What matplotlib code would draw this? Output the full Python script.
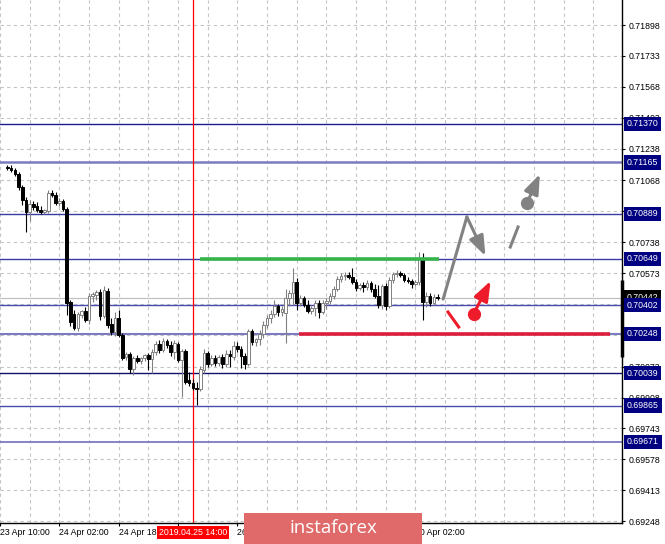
import numpy as np
import matplotlib
matplotlib.use("Agg")
import matplotlib.pyplot as plt
from matplotlib.patches import Rectangle
from matplotlib.transforms import blended_transform_factory

# ---- data (H1 candles, bar index counted from 23 Apr 10:00) ----
bars = np.arange(2, 119)

opens = [0.71140, 0.71134, 0.71124, 0.71103, 0.71033, 0.70963, 0.70899, 0.70942, 0.70931, 0.70910,
         0.70899, 0.70905, 0.71001, 0.70990, 0.70947, 0.70958, 0.70915, 0.70418, 0.70355, 0.70279,
         0.70349, 0.70371, 0.70322, 0.70451, 0.70456, 0.70472, 0.70344, 0.70478, 0.70301, 0.70258,
         0.70333, 0.70242, 0.70125, 0.70141, 0.70061, 0.70119, 0.70104, 0.70119, 0.70135, 0.70114,
         0.70151, 0.70194, 0.70162, 0.70210, 0.70188, 0.70151, 0.70194, 0.70109, 0.70157, 0.70002,
         0.69986, 0.69959, 0.69954, 0.70055, 0.70146, 0.70088, 0.70119, 0.70093, 0.70125, 0.70088,
         0.70141, 0.70125, 0.70183, 0.70167, 0.70130, 0.70088, 0.70264, 0.70204, 0.70221, 0.70248,
         0.70295, 0.70333, 0.70355, 0.70397, 0.70365, 0.70360, 0.70440, 0.70467, 0.70525, 0.70413,
         0.70440, 0.70402, 0.70371, 0.70386, 0.70413, 0.70365, 0.70413, 0.70424, 0.70451, 0.70488,
         0.70541, 0.70557, 0.70562, 0.70552, 0.70525, 0.70493, 0.70509, 0.70499, 0.70520, 0.70488,
         0.70451, 0.70402, 0.70504, 0.70397, 0.70536, 0.70568, 0.70573, 0.70562, 0.70536, 0.70531,
         0.70515, 0.70525, 0.70653, 0.70418, 0.70451, 0.70413, 0.70446]
highs = [0.71150, 0.71150, 0.71134, 0.71113, 0.71043, 0.70980, 0.70963, 0.70958, 0.70952, 0.70931,
         0.70915, 0.71017, 0.71017, 0.71006, 0.70974, 0.70969, 0.70926, 0.70429, 0.70376, 0.70365,
         0.70376, 0.70392, 0.70467, 0.70472, 0.70483, 0.70488, 0.70504, 0.70493, 0.70333, 0.70365,
         0.70376, 0.70253, 0.70151, 0.70151, 0.70130, 0.70135, 0.70125, 0.70141, 0.70146, 0.70167,
         0.70210, 0.70215, 0.70226, 0.70221, 0.70210, 0.70215, 0.70204, 0.70167, 0.70167, 0.70044,
         0.70007, 0.69991, 0.70077, 0.70167, 0.70157, 0.70135, 0.70135, 0.70135, 0.70141, 0.70162,
         0.70162, 0.70210, 0.70204, 0.70183, 0.70146, 0.70274, 0.70274, 0.70226, 0.70269, 0.70317,
         0.70349, 0.70376, 0.70429, 0.70408, 0.70397, 0.70488, 0.70483, 0.70600, 0.70546, 0.70456,
         0.70451, 0.70429, 0.70397, 0.70429, 0.70429, 0.70429, 0.70440, 0.70467, 0.70504, 0.70557,
         0.70573, 0.70578, 0.70578, 0.70600, 0.70541, 0.70520, 0.70525, 0.70536, 0.70531, 0.70515,
         0.70509, 0.70515, 0.70520, 0.70552, 0.70578, 0.70589, 0.70584, 0.70573, 0.70552, 0.70541,
         0.70536, 0.70685, 0.70680, 0.70472, 0.70467, 0.70461, 0.70462]
lows = [0.71124, 0.71113, 0.71092, 0.71017, 0.70936, 0.70792, 0.70852, 0.70910, 0.70899, 0.70889,
        0.70889, 0.70894, 0.70980, 0.70936, 0.70931, 0.70905, 0.70349, 0.70290, 0.70269, 0.70264,
        0.70333, 0.70311, 0.70301, 0.70418, 0.70429, 0.70322, 0.70333, 0.70279, 0.70242, 0.70237,
        0.70232, 0.70109, 0.70109, 0.70039, 0.70028, 0.70093, 0.70088, 0.70104, 0.70055, 0.70039,
        0.70135, 0.70146, 0.70151, 0.70172, 0.70130, 0.70114, 0.70098, 0.69911, 0.69981, 0.69970,
        0.69948, 0.69868, 0.69943, 0.70039, 0.70072, 0.70077, 0.70077, 0.70077, 0.70066, 0.70072,
        0.70072, 0.70109, 0.70151, 0.70066, 0.70061, 0.70077, 0.70188, 0.70183, 0.70188, 0.70226,
        0.70279, 0.70306, 0.70339, 0.70344, 0.70344, 0.70199, 0.70397, 0.70402, 0.70376, 0.70397,
        0.70392, 0.70360, 0.70355, 0.70344, 0.70333, 0.70355, 0.70381, 0.70408, 0.70434, 0.70478,
        0.70525, 0.70536, 0.70541, 0.70515, 0.70478, 0.70483, 0.70472, 0.70483, 0.70472, 0.70440,
        0.70386, 0.70381, 0.70376, 0.70386, 0.70520, 0.70552, 0.70552, 0.70525, 0.70520, 0.70493,
        0.70504, 0.70509, 0.70322, 0.70392, 0.70397, 0.70402, 0.70429]
closes = [0.71134, 0.71124, 0.71103, 0.71033, 0.70963, 0.70899, 0.70942, 0.70926, 0.70910, 0.70899,
          0.70910, 0.71001, 0.70990, 0.70947, 0.70958, 0.70915, 0.70413, 0.70311, 0.70279, 0.70355,
          0.70371, 0.70322, 0.70451, 0.70462, 0.70472, 0.70344, 0.70483, 0.70295, 0.70258, 0.70333,
          0.70242, 0.70119, 0.70141, 0.70061, 0.70119, 0.70104, 0.70119, 0.70135, 0.70114, 0.70151,
          0.70194, 0.70162, 0.70210, 0.70188, 0.70151, 0.70199, 0.70109, 0.70157, 0.69991, 0.69986,
          0.69959, 0.69954, 0.70061, 0.70146, 0.70088, 0.70119, 0.70093, 0.70125, 0.70088, 0.70141,
          0.70130, 0.70183, 0.70167, 0.70130, 0.70088, 0.70264, 0.70204, 0.70221, 0.70248, 0.70295,
          0.70333, 0.70355, 0.70397, 0.70365, 0.70381, 0.70440, 0.70467, 0.70525, 0.70413, 0.70440,
          0.70402, 0.70371, 0.70386, 0.70413, 0.70365, 0.70413, 0.70424, 0.70451, 0.70488, 0.70541,
          0.70557, 0.70562, 0.70552, 0.70525, 0.70493, 0.70509, 0.70499, 0.70520, 0.70488, 0.70451,
          0.70402, 0.70504, 0.70397, 0.70536, 0.70568, 0.70573, 0.70562, 0.70536, 0.70531, 0.70515,
          0.70525, 0.70653, 0.70418, 0.70451, 0.70413, 0.70446, 0.70442]

price_ticks = [0.69248, 0.69413, 0.69578, 0.69743, 0.69908, 0.70073, 0.70240, 0.70407, 0.70573,
               0.70738, 0.70903, 0.71068, 0.71238, 0.71403, 0.71568, 0.71733, 0.71898]
time_ticks = [0, 16, 32, 48, 64, 80, 96, 112]
time_labels = ["23 Apr 10:00", "24 Apr 02:00", "24 Apr 18:00", "25 Apr 10:00",
               "26 Apr 02:00", "26 Apr 18:00", "29 Apr 10:00", "30 Apr 02:00"]
grid_bars = np.arange(0, 168, 8)

levels = [0.71370, 0.71165, 0.70889, 0.70649, 0.70402, 0.70248, 0.70039, 0.69865, 0.69671]
level_colors = ['#1c1c8c', '#7b7bc0', '#3a3aa8', '#3a3aa8', '#4a4ab0',
                '#7b7bc0', '#101070', '#4a4ab0', '#7b7bc0']
level_widths = [1.0, 1.8, 1.0, 1.0, 1.0, 1.5, 1.0, 1.0, 1.3]
last_price = 0.70442
marked_bar = 52          # 2019.04.25 14:00
marked_label = "2019.04.25 14:00"

resist_x, resist_y = [53.9, 118.4], 0.70649
support_x, support_y = [80.5, 164.5], 0.70248
range_bar = [0.70124, 0.70536]

up_path_x = [119.5, 125.9, 130.9]
up_path_y = [0.70434, 0.70873, 0.70664]
up_dash_x = [137.6, 139.7]
up_dash_y = [0.70712, 0.70819]
up_arrow_x = [142.1, 145.6]
up_arrow_y = [0.70947, 0.71102]
dn_dash_x = [120.8, 123.7]
dn_dash_y = [0.70365, 0.70285]
dn_arrow_x = [127.7, 132.3]
dn_arrow_y = [0.70354, 0.70531]

# ---- figure ----
W, H = 665, 544
FONT = 'Liberation Sans'
FS = 6.3
fig = plt.figure(figsize=(W / 100, H / 100), dpi=100)
ax = fig.add_axes([0, 21 / H, 622 / W, 523 / H])
ax.set_xlim(7 / 3.75, 629 / 3.75)
ax.set_ylim(0.692376, 0.72032)

for s in ['top', 'left']:
    ax.spines[s].set_visible(False)
for s in ['right', 'bottom']:
    ax.spines[s].set_color('black')
    ax.spines[s].set_linewidth(1.0)

ax.yaxis.tick_right()
ax.set_yticks(price_ticks)
ax.set_yticklabels([f"{p:.5f}" for p in price_ticks], fontsize=FS, family=FONT)
ax.set_xticks(time_ticks)
ax.set_xticklabels([])
ax.set_xticks(grid_bars, minor=True)
ax.tick_params(axis='both', which='major', length=2.5, width=0.8, pad=2, direction='out')
ax.tick_params(axis='x', which='minor', length=0)
ax.grid(True, which='both', color='#c4c4c4', linestyle=(0, (3, 3)), linewidth=0.8)
ax.set_axisbelow(True)

# time labels start at their tick, like the terminal does
for b, lab in zip(time_ticks, time_labels):
    ax.annotate(lab, xy=(b, 0), xycoords=('data', 'axes fraction'),
                xytext=(0, -6.8), textcoords='offset points', va='center', ha='left',
                fontsize=FS, family=FONT, annotation_clip=False)

# support / resistance levels
for lv, c, w in zip(levels, level_colors, level_widths):
    ax.axhline(lv, color=c, lw=w, zorder=1)
ax.axhline(last_price, color='#c0c0c0', lw=0.9, zorder=1)
ax.axvline(marked_bar, color='red', lw=0.9, zorder=1)

# candles
for b, o, h, l, c in zip(bars, opens, highs, lows, closes):
    bull = c >= o
    col = '#808080' if bull else 'black'
    ax.vlines(b, l, h, color=col, lw=0.8, zorder=2)
    hgt = max(abs(c - o), 0.00002)
    ax.bar(b, hgt, bottom=min(o, c), width=0.7,
           facecolor='white' if bull else 'black', edgecolor=col, linewidth=0.7, zorder=3)

# drawn zones
ax.hlines(resist_y, resist_x[0], resist_x[1], color='#36b44a', lw=2.6, zorder=4)
ax.hlines(support_y, support_x[0], support_x[1], color='#dc1e3c', lw=2.6, zorder=4)

# forecast arrows
gray = '#828282'
red = '#ee1c2a'
aprops = dict(arrowstyle='-|>,head_length=0.75,head_width=0.28', lw=2.2,
              shrinkA=0, shrinkB=0, mutation_scale=16)
ax.plot(up_path_x[:2], up_path_y[:2], color=gray, lw=2.2, solid_capstyle='round', zorder=5)
ax.annotate('', xy=(up_path_x[2], up_path_y[2]), xytext=(up_path_x[1], up_path_y[1]),
            arrowprops=dict(color=gray, **aprops), zorder=5)
ax.plot(up_dash_x, up_dash_y, color=gray, lw=2.2, zorder=5)
ax.plot(up_arrow_x[0], up_arrow_y[0], 'o', color=gray, ms=8.5, zorder=5)
ax.annotate('', xy=(up_arrow_x[1], up_arrow_y[1]), xytext=(up_arrow_x[0], up_arrow_y[0]),
            arrowprops=dict(color=gray, **aprops), zorder=5)
ax.plot(dn_dash_x, dn_dash_y, color=red, lw=2.2, zorder=5)
ax.plot(dn_arrow_x[0], dn_arrow_y[0], 'o', color=red, ms=8.5, zorder=5)
ax.annotate('', xy=(dn_arrow_x[1], dn_arrow_y[1]), xytext=(dn_arrow_x[0], dn_arrow_y[0]),
            arrowprops=dict(color=red, **aprops), zorder=5)

# right-axis marker bar
tr = blended_transform_factory(ax.transAxes, ax.transData)
ax.plot([1, 1], range_bar, transform=tr, color='black', lw=2.5,
        clip_on=False, solid_capstyle='butt', zorder=6)

# price labels of levels
for lv in levels:
    ax.annotate(f"{lv:.5f}", xy=(1, lv), xycoords=('axes fraction', 'data'),
                xytext=(3.5, 0), textcoords='offset points', va='center', ha='left',
                fontsize=FS, family=FONT, color='white', annotation_clip=False, zorder=7,
                bbox=dict(boxstyle='square,pad=0.32', fc='#000080', ec='none'))
ax.annotate(f"{last_price:.5f}", xy=(1, last_price), xycoords=('axes fraction', 'data'),
            xytext=(3.5, 0), textcoords='offset points', va='center', ha='left',
            fontsize=FS, family=FONT, color='white', annotation_clip=False, zorder=6,
            bbox=dict(boxstyle='square,pad=0.32', fc='black', ec='none'))

# marked time label
ax.annotate(marked_label, xy=(marked_bar, 0), xycoords=('data', 'axes fraction'),
            xytext=(0, -6.8), textcoords='offset points', va='center', ha='center',
            fontsize=FS, family=FONT, color='white', annotation_clip=False, zorder=7,
            bbox=dict(boxstyle='square,pad=0.25', fc='#ff0000', ec='none'))

# watermark
fig.add_artist(Rectangle((244 / W, 0), 178 / W, 31 / H, transform=fig.transFigure,
                         facecolor='#e06a6a', edgecolor='none', zorder=10))
fig.text(333 / W, 16 / H, 'instaforex', color='white', fontsize=13.5, ha='center',
         va='center', family='Open Sans', zorder=11)

fig.savefig('out.png', dpi=100)
